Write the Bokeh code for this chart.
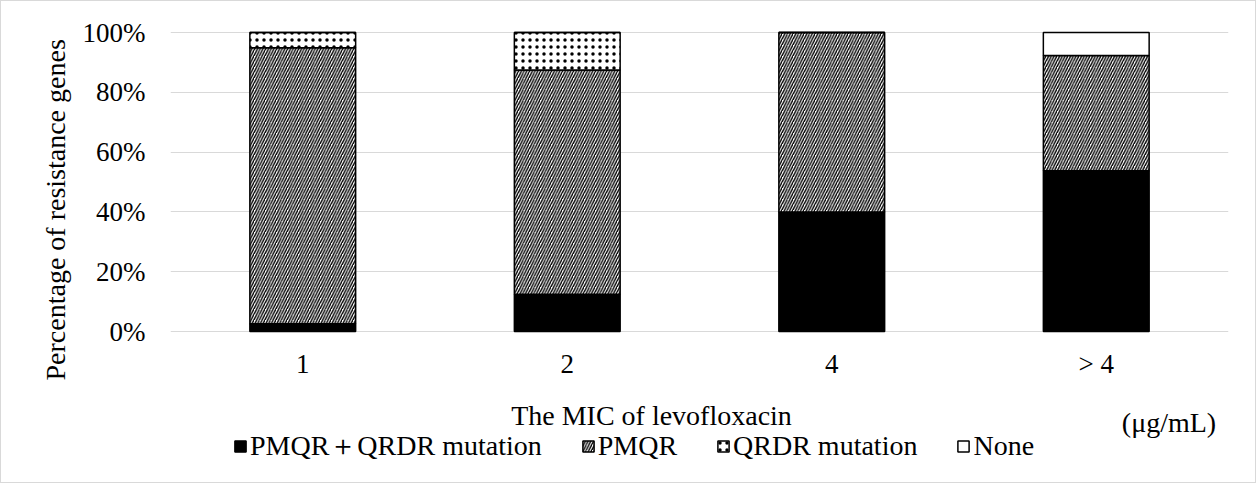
from bokeh.plotting import figure
from bokeh.models import (FactorRange, Range1d, FixedTicker, PrintfTickFormatter,
                          Label, Title)
from bokeh.embed import file_html
from bokeh.resources import INLINE

# ---- data (percent of isolates) ----
categories = ["1", "2", "4", "> 4"]
both = [2.6, 12.5, 40.0, 53.8]      # PMQR + QRDR mutation
pmqr = [92.3, 75.0, 60.0, 38.5]     # PMQR
qrdr = [5.1, 12.5, 0.0, 0.0]        # QRDR mutation
none = [0.0, 0.0, 0.0, 7.7]         # None
series_names = ["PMQR\uff0bQRDR mutation", "PMQR", "QRDR mutation", "None"]
y_ticks = [0, 20, 40, 60, 80, 100]

# ---- layout constants (canvas pixels) ----
W, H = 1256, 483
LEFT, RIGHT = 169, 1227          # plot frame horizontal extent
Y100, Y0 = 31, 330               # canvas rows of 100% and 0%
PXY = (Y0 - Y100) / 100.0
FONT = "Liberation Serif"

p = figure(width=W, height=H, x_range=FactorRange(*categories),
           y_range=Range1d((Y0 - H) / PXY, Y0 / PXY),
           output_backend="svg", toolbar_location=None,
           min_border_left=LEFT, min_border_right=W - RIGHT,
           min_border_top=0, min_border_bottom=0)
p.title.visible = False
p.outline_line_color = None
p.background_fill_color = "white"
p.border_fill_color = "white"
p.styles = {"border": "1px solid #d9d9d9"}

src = dict(cat=categories, both=both, pmqr=pmqr, qrdr=qrdr, none=none)
keys = ["both", "pmqr", "qrdr", "none"]
p.vbar_stack(keys, x="cat", width=0.4, source=src,
             fill_color=["black", "white", "white", "white"],
             line_color="black", line_width=1.5,
             hatch_pattern=[" ", "/", ".", " "],
             hatch_color="black",
             hatch_scale=[12, 5.5, 7, 12],
             hatch_weight=[1, 1.4, 0.6, 1],
             legend_label=series_names)

# axes
p.xgrid.grid_line_color = None
p.ygrid.grid_line_color = "#d9d9d9"
p.ygrid.grid_line_width = 1
p.ygrid.ticker = FixedTicker(ticks=y_ticks)
p.yaxis.ticker = FixedTicker(ticks=y_ticks)
p.yaxis.formatter = PrintfTickFormatter(format="%d%%")
p.xaxis.fixed_location = 0
for ax in (p.xaxis, p.yaxis):
    ax.axis_line_color = None
    ax.major_tick_line_color = None
    ax.minor_tick_line_color = None
    ax.major_tick_out = 0
    ax.major_tick_in = 0
    ax.major_label_text_font = FONT
    ax.major_label_text_font_size = "27px"
    ax.major_label_text_color = "black"
p.yaxis.major_label_standoff = 25
p.xaxis.major_label_standoff = 17

# y-axis title, in the left panel
p.add_layout(Title(text="Percentage of resistance genes", align="left",
                   offset=104, standoff=18, text_font=FONT,
                   text_font_size="28px", text_font_style="normal",
                   text_color="black"), "left")

# pixel -> data helpers for text placement inside the frame
def dx(cx):
    return (cx - LEFT) / ((RIGHT - LEFT) / len(categories))

def dy(cy):
    return (Y0 - cy) / PXY

p.add_layout(Label(x=dx(650), y=dy(414), text="The MIC of levofloxacin",
                   text_align="center", text_baseline="alphabetic",
                   text_font=FONT, text_font_size="28px", text_color="black"))
p.add_layout(Label(x=dx(1167.5), y=dy(421), text="(\u03bcg/mL)",
                   text_align="center", text_baseline="alphabetic",
                   text_font=FONT, text_font_size="28px", text_color="black"))

leg = p.legend[0]
leg.orientation = "horizontal"
leg.location = (63, 19)
leg.padding = 0
leg.margin = 0
leg.border_line_color = None
leg.background_fill_color = None
leg.glyph_width = 14
leg.glyph_height = 14
leg.label_standoff = 3
leg.spacing = 39
leg.label_text_font = FONT
leg.label_text_font_size = "28px"
leg.label_text_color = "black"

open("out.html", "w").write(file_html(p, INLINE))
